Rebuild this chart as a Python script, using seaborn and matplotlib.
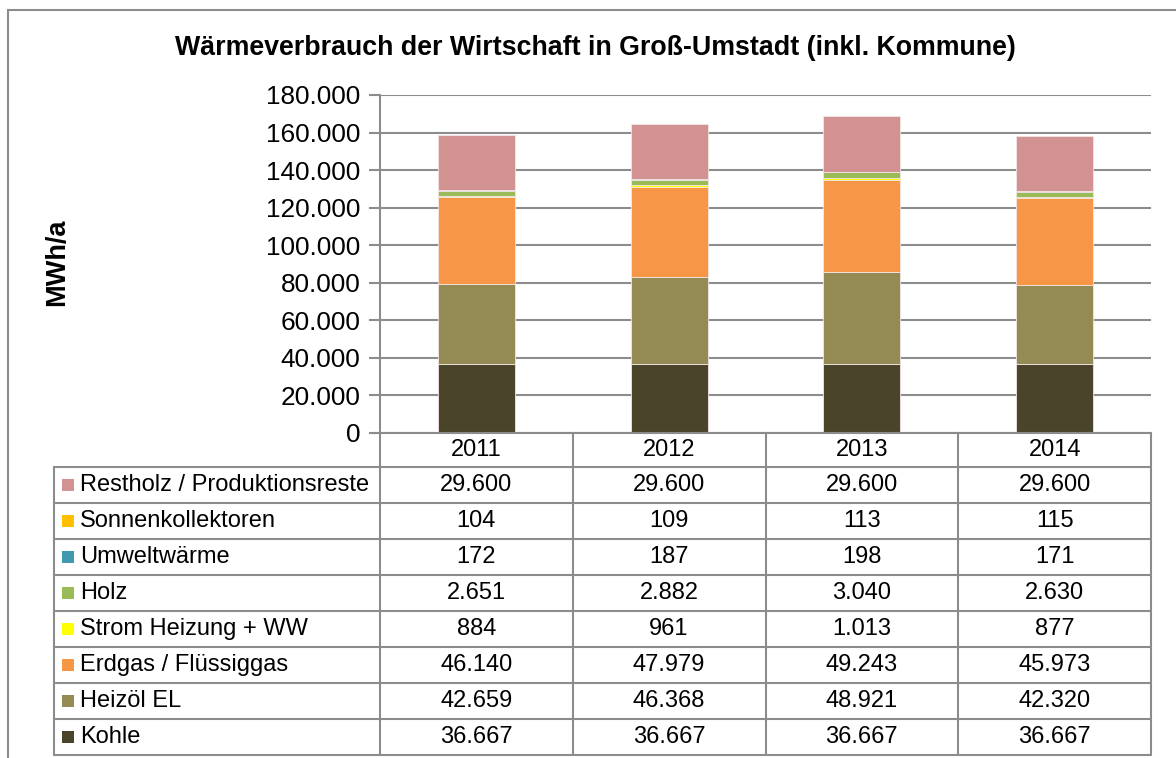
import numpy as np
import matplotlib
matplotlib.use("Agg")
import matplotlib.pyplot as plt
from matplotlib.lines import Line2D
from matplotlib.patches import Rectangle
import seaborn as sns

# data (MWh/a), from table in the chart
years = ["2011", "2012", "2013", "2014"]
kohle = [36667, 36667, 36667, 36667]
heizoel = [42659, 46368, 48921, 42320]
erdgas = [46140, 47979, 49243, 45973]
strom = [884, 961, 1013, 877]
holz = [2651, 2882, 3040, 2630]
umwelt = [172, 187, 198, 171]
sonnen = [104, 109, 113, 115]
restholz = [29600, 29600, 29600, 29600]

# bottom -> top order
series = [
    ("Kohle", kohle, "#4A452A"),
    ("Heizöl EL", heizoel, "#948A54"),
    ("Erdgas / Flüssiggas", erdgas, "#F79646"),
    ("Strom Heizung + WW", strom, "#FFFF00"),
    ("Holz", holz, "#9BBB59"),
    ("Umweltwärme", umwelt, "#4198AF"),
    ("Sonnenkollektoren", sonnen, "#FFC000"),
    ("Restholz / Produktionsreste", restholz, "#D39292"),
]

sns.set_theme(style="white")
plt.rcParams["font.family"] = ["Liberation Sans", "DejaVu Sans"]
plt.rcParams["text.color"] = "black"

W, H = 1176, 758
fig = plt.figure(figsize=(W / 100, H / 100), dpi=100)


def fx(x):
    return x / W


def fy(y):
    return 1 - y / H


grid_col = "#8C8C8C"

# outer frame
fig.add_artist(Rectangle((fx(8), fy(800)), fx(1200), 790 / H, transform=fig.transFigure,
                         fill=False, edgecolor="#8C8C8C", lw=1.5))

ax = fig.add_axes([fx(380), fy(433), fx(1151) - fx(380), (433 - 95) / H])

cum = np.zeros(len(years))
for name, vals, col in series:
    sns.barplot(x=years, y=vals, bottom=cum, color=col, width=0.4, saturation=1,
                edgecolor="#F2E6E6", linewidth=0.6, ax=ax)
    cum = cum + np.array(vals)

ax.set_ylim(0, 180000)
ax.set_xlim(-0.5, len(years) - 0.5)
ax.set_yticks(np.arange(0, 180001, 20000))
ax.set_yticklabels([f"{int(v):,}".replace(",", ".") for v in np.arange(0, 180001, 20000)],
                   fontsize=18.8)
ax.yaxis.grid(True, color=grid_col, lw=1.5)
ax.set_axisbelow(True)
ax.set_xticks([])
ax.set_xlabel("")
ax.set_ylabel("")
for s in ["top", "right", "bottom"]:
    ax.spines[s].set_visible(False)
ax.spines["left"].set_color(grid_col)
ax.spines["left"].set_linewidth(1.5)
ax.tick_params(axis="y", left=True, length=8, width=1.5, color=grid_col, pad=6,
               labelcolor="black")

fig.text(fx(595), fy(48), "Wärmeverbrauch der Wirtschaft in Groß-Umstadt (inkl. Kommune)",
         ha="center", va="center", fontsize=19.3, fontweight="bold", color="black")
fig.text(fx(57), fy(262), "MWh/a", rotation=90, ha="center", va="center",
         fontsize=19.5, fontweight="bold", color="black")

# data table below the axis
col_x = [ax.transData.transform((i - 0.5, 0))[0] for i in range(len(years) + 1)]
col_x = [fig.transFigure.inverted().transform((c, 0))[0] * W for c in col_x]
tab_left = 54
row_top = 433
row_h = 36
header_bottom = 467
n_rows = len(series)
tab_bottom = header_bottom + n_rows * row_h
tab_fs = 17


def hline(x0, x1, y):
    fig.add_artist(Line2D([fx(x0), fx(x1)], [fy(y), fy(y)], transform=fig.transFigure,
                          color=grid_col, lw=1.5))


def vline(x, y0, y1):
    fig.add_artist(Line2D([fx(x), fx(x)], [fy(y0), fy(y1)], transform=fig.transFigure,
                          color=grid_col, lw=1.5))


hline(col_x[0] - 8, col_x[-1], row_top)
for c in col_x:
    vline(c, row_top, tab_bottom)
vline(tab_left, header_bottom, tab_bottom)
for r in range(n_rows + 1):
    hline(tab_left, col_x[-1], header_bottom + r * row_h)

for i, yr in enumerate(years):
    fig.text(fx((col_x[i] + col_x[i + 1]) / 2), fy((row_top + header_bottom) / 2), yr,
             ha="center", va="center", fontsize=tab_fs, color="black")

for r, (name, vals, col) in enumerate(series[::-1]):
    yc = header_bottom + r * row_h + row_h / 2
    fig.add_artist(Rectangle((fx(62), fy(yc + 6)), 12 / W, 12 / H, transform=fig.transFigure,
                             facecolor=col, edgecolor="none"))
    fig.text(fx(80), fy(yc), name, ha="left", va="center", fontsize=tab_fs, color="black")
    for i, v in enumerate(vals):
        fig.text(fx((col_x[i] + col_x[i + 1]) / 2), fy(yc), f"{v:,}".replace(",", "."),
                 ha="center", va="center", fontsize=tab_fs, color="black")

fig.savefig("out.png", dpi=100)
